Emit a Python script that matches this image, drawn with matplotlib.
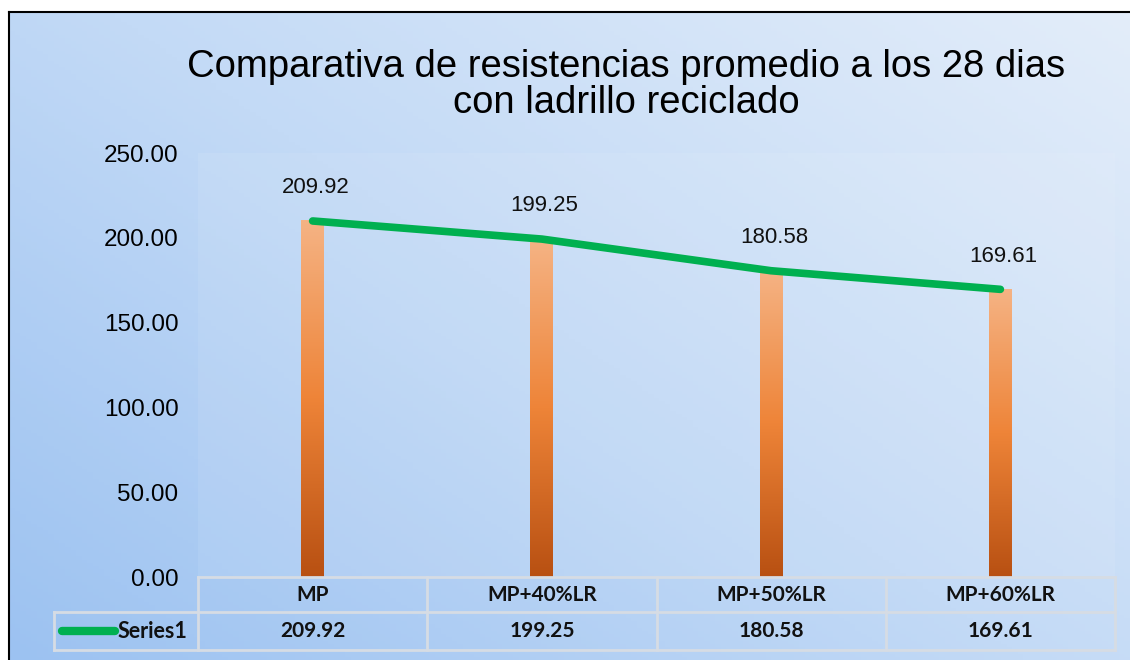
import numpy as np
import matplotlib
matplotlib.use("Agg")
import matplotlib.pyplot as plt
from matplotlib.colors import LinearSegmentedColormap
from matplotlib.transforms import blended_transform_factory
from matplotlib.lines import Line2D
from matplotlib.patches import Rectangle

# ── data ────────────────────────────────────────────────────────────────
categories = ["MP", "MP+40%LR", "MP+50%LR", "MP+60%LR"]
values = [209.92, 199.25, 180.58, 169.61]
series_name = "Series1"
yticks = [0, 50, 100, 150, 200, 250]

TITLE = "Comparativa de resistencias promedio a los 28 dias\ncon ladrillo reciclado"
GREEN = "#00B050"
GRID = "#D6DCE4"

plt.rcParams["font.family"] = ["Liberation Sans", "DejaVu Sans"]

W, H = 1130, 660
fig = plt.figure(figsize=(W / 100, H / 100), dpi=100)
fig.patch.set_facecolor("white")


def fx(px):
    return px / W


def fy(py):
    return (H - py) / H


# ── background gradient (chart area) ────────────────────────────────────
bg = fig.add_axes([fx(9), 0, 1 - fx(9), fy(12)], zorder=0)
bg.set_axis_off()
gx, gy = np.meshgrid(np.linspace(0, 1, 200), np.linspace(0, 1, 200))
t = np.clip(0.55 * gx + 0.45 * gy, 0, 1)
bg_cmap = LinearSegmentedColormap.from_list("bg", ["#9CC2F1", "#C3DAF6", "#E3EDFA"])
bg.imshow(t, cmap=bg_cmap, origin="lower", extent=[0, 1, 0, 1], aspect="auto")
bg.set_xlim(0, 1)
bg.set_ylim(0, 1)
fig.add_artist(Line2D([fx(9), fx(9)], [0, fy(12)], color="black", lw=1.5))
fig.add_artist(Line2D([fx(9), 1], [fy(12), fy(12)], color="black", lw=1.5))

# ── main axes ───────────────────────────────────────────────────────────
ax = fig.add_axes([fx(198), fy(577), fx(1115) - fx(198), fy(153) - fy(577)], zorder=2)
ax.patch.set_alpha(0)
x = np.arange(len(categories))

# subtle plot-area panel
ax.add_patch(Rectangle((0, 0), 1, 1, transform=ax.transAxes, facecolor="white",
                       alpha=0.08, edgecolor="none", zorder=0))

# gradient bars
bar_cmap = LinearSegmentedColormap.from_list(
    "bar", [(0, "#B85012"), (0.5, "#EE8438"), (1, "#F5B384")])
bw = 0.1
grad = np.linspace(0, 1, 256).reshape(-1, 1)
for xi, v in zip(x, values):
    ax.imshow(grad, cmap=bar_cmap, origin="lower", aspect="auto",
              extent=[xi - bw / 2, xi + bw / 2, 0, v], zorder=2)
ax.set_xlim(-0.5, len(categories) - 0.5)
ax.set_ylim(0, 250)

# line
ax.plot(x, values, color=GREEN, lw=5.5, solid_capstyle="round", zorder=3)
for xi, v in zip(x, values):
    ax.annotate(f"{v:.2f}", (xi, v), xytext=(2, 24), textcoords="offset points",
                ha="center", va="center", fontsize=16, color="#111111")

ax.set_yticks(yticks)
ax.set_yticklabels([f"{v:.2f}" for v in yticks], fontsize=17.5)
ax.tick_params(axis="y", length=0, pad=14)
ax.set_xticks([])
for s in ax.spines.values():
    s.set_visible(False)

# ── title ───────────────────────────────────────────────────────────────
fig.text(fx(626), fy(85), TITLE, ha="center", va="center", fontsize=27.5,
         linespacing=1.0, color="black")

# ── data table ──────────────────────────────────────────────────────────
tr = blended_transform_factory(ax.transData, fig.transFigure)
y_top, y_mid, y_bot = fy(577), fy(612), fy(650)
x_left, x_right = -0.5, len(categories) - 0.5
lk = dict(color=GRID, lw=2, transform=tr, clip_on=False, zorder=4)
fig.add_artist(Line2D([x_left, x_right], [y_top, y_top], **lk))
fig.add_artist(Line2D([x_left, x_right], [y_bot, y_bot], **lk))
fig.add_artist(Line2D([x_left, x_right], [y_mid, y_mid], **lk))
for b in np.arange(len(categories) + 1) - 0.5:
    fig.add_artist(Line2D([b, b], [y_top, y_bot], **lk))
lf = dict(color=GRID, lw=2, zorder=4)
fig.add_artist(Line2D([fx(54), fx(198)], [y_mid, y_mid], **lf))
fig.add_artist(Line2D([fx(54), fx(198)], [y_bot, y_bot], **lf))
fig.add_artist(Line2D([fx(54), fx(54)], [y_mid, y_bot], **lf))

tfont = dict(fontsize=15, fontweight="bold", family=["Lato", "DejaVu Sans"],
             ha="center", va="center", color="#111111", zorder=5)
for xi, c, v in zip(x, categories, values):
    fig.text(xi, fy(595), c, transform=tr, **tfont)
    fig.text(xi, fy(631), f"{v:.2f}", transform=tr, **tfont)

fig.add_artist(Line2D([fx(62), fx(115)], [fy(631), fy(631)], color=GREEN, lw=6,
                      solid_capstyle="round", zorder=5))
fig.text(fx(118), fy(631), series_name, ha="left", va="center", fontsize=15.5,
         fontweight="bold", family=["Lato", "DejaVu Sans"], color="#111111", zorder=5)

fig.savefig("out.png", dpi=100)
